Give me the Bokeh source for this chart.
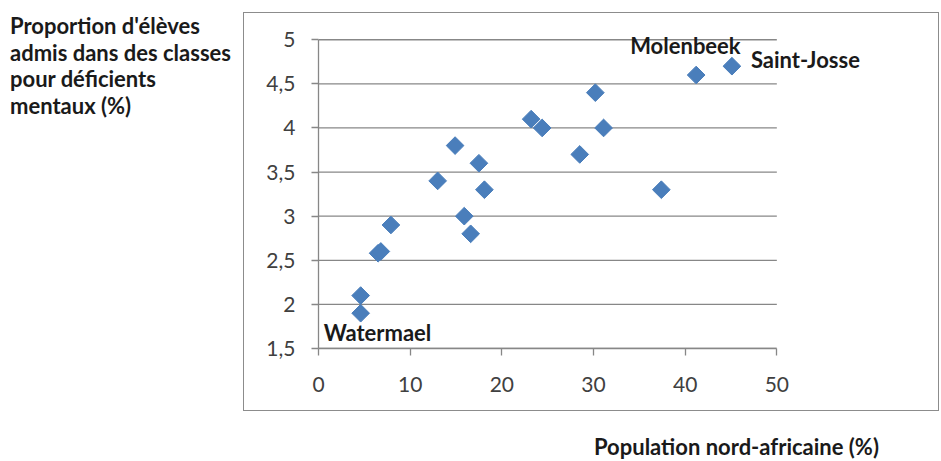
from bokeh.plotting import figure
from bokeh.models import Label, FixedTicker, Range1d, Div
from bokeh.layouts import row, column
from bokeh.embed import file_html
from bokeh.resources import INLINE

# ---- data ----
pop_na = [4.6, 4.6, 6.5, 6.8, 7.9, 13.0, 14.9, 15.9, 16.6, 17.5, 18.1,
          23.2, 24.4, 28.5, 30.2, 31.1, 37.4, 41.2, 45.1]
deficients = [2.1, 1.9, 2.58, 2.6, 2.9, 3.4, 3.8, 3.0, 2.8, 3.6, 3.3,
              4.1, 4.0, 3.7, 4.4, 4.0, 3.3, 4.6, 4.7]
named = ["Watermael", "Molenbeek", "Saint-Josse"]
named_x = [4.6, 41.2, 45.1]
named_y = [1.9, 4.6, 4.7]
x_ticks = [0, 10, 20, 30, 40, 50]
y_ticks = [1.5, 2, 2.5, 3, 3.5, 4, 4.5, 5]
y_tick_labels = ["1,5", "2", "2,5", "3", "3,5", "4", "4,5", "5"]
y_title = ["Proportion d'élèves", "admis dans des classes",
           "pour déficients", "mentaux (%)"]
x_title = "Population nord-africaine (%)"

FONT = "Lato"
GRID = "#878787"
TXT = "#1a1a1a"

# chart box: 696 x 399; x 0..50 spans 458px, y 1.5..5 spans 309px
p = figure(width=696, height=399, output_backend="svg", toolbar_location=None,
           x_range=Range1d(0, 60), y_range=Range1d(1.5, 5.15),
           min_border_left=74, min_border_right=72,
           min_border_top=13, min_border_bottom=64,
           styles={"border": "1px solid #8c8c8c"})
p.outline_line_color = None
p.background_fill_color = "white"
p.border_fill_color = "white"
p.xgrid.grid_line_color = None
p.ygrid.grid_line_color = None

# horizontal gridlines limited to the x axis extent
p.segment(x0=[x_ticks[0]] * len(y_ticks), x1=[x_ticks[-1]] * len(y_ticks),
          y0=y_ticks, y1=y_ticks, line_color=GRID, line_width=1.3)

p.xaxis.ticker = FixedTicker(ticks=x_ticks)
p.yaxis.ticker = FixedTicker(ticks=y_ticks)
p.xaxis.bounds = (x_ticks[0], x_ticks[-1])
p.yaxis.bounds = (y_ticks[0], y_ticks[-1])
p.yaxis.major_label_overrides = {t: l for t, l in zip(y_ticks, y_tick_labels)}
for ax in (p.xaxis, p.yaxis):
    ax.axis_line_color = GRID
    ax.axis_line_width = 1.3
    ax.major_tick_line_color = GRID
    ax.major_tick_line_width = 1.3
    ax.major_tick_in = 0
    ax.major_tick_out = 7
    ax.minor_tick_line_color = None
    ax.major_label_text_font = FONT
    ax.major_label_text_font_size = "21px"
    ax.major_label_text_color = "#404040"
p.yaxis.major_label_standoff = 16
p.xaxis.major_label_standoff = 21

p.scatter(pop_na, deficients, marker="square", angle=45, angle_units="deg",
          size=12.5, fill_color="#4A7EBB", line_color="#4A7EBB")

offsets = {"Watermael": (-37, -19), "Molenbeek": (-66, 30),
           "Saint-Josse": (19, 7)}
for n, x, y in zip(named, named_x, named_y):
    dx, dy = offsets[n]
    p.add_layout(Label(x=x, y=y, x_offset=dx, y_offset=dy, text=n,
                       text_align="left", text_baseline="alphabetic",
                       text_font=FONT, text_font_style="bold",
                       text_font_size="22px", text_color=TXT))

title_style = {"font-family": FONT, "font-weight": "bold", "font-size": "22px",
               "line-height": "26.5px", "color": TXT, "white-space": "nowrap"}
ydiv = Div(text="<br>".join(y_title), width=233, height=120,
           margin=(13, 0, 0, 10), styles=title_style)
xdiv = Div(text=x_title, width=330, height=25,
           margin=(23, 0, 0, 351), styles=title_style)

layout = row(ydiv, column(p, xdiv, margin=(12, 0, 0, 0)))

open("out.html", "w").write(file_html(layout, INLINE))
